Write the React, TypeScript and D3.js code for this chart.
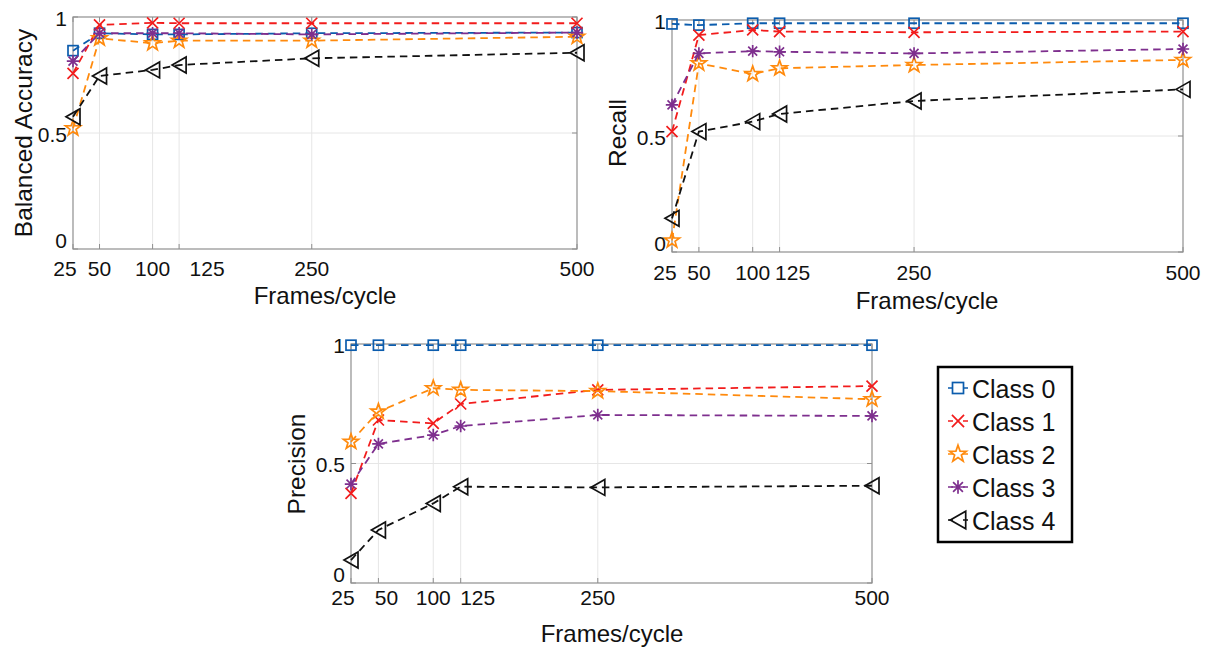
import React from "react";
import * as d3 from "d3";

// Frames per cycle evaluated for every class
const frames = [25, 50, 100, 125, 250, 500];
const xTickLabels = ["25", "50", "100", "125", "250", "500"];
const yTicks = [0, 0.5, 1];
const yTickLabels = ["0", "0.5", "1"];

const classNames = ["Class 0", "Class 1", "Class 2", "Class 3", "Class 4"];
const classColors = ["#0b5cad", "#f21c1c", "#ff8a0d", "#7e2f8e", "#111111"];
const classMarkers = ["square", "x", "star", "asterisk", "triangleLeft"];

// Metric values, one row per class, one column per frames/cycle value
const balancedAccuracy = [
  [0.855, 0.93, 0.925, 0.925, 0.93, 0.933],
  [0.757, 0.966, 0.975, 0.973, 0.973, 0.973],
  [0.52, 0.908, 0.887, 0.898, 0.898, 0.915],
  [0.81, 0.93, 0.93, 0.93, 0.925, 0.933],
  [0.57, 0.746, 0.772, 0.793, 0.822, 0.846],
];

const recall = [
  [0.983, 0.978, 0.986, 0.986, 0.986, 0.986],
  [0.519, 0.935, 0.957, 0.95, 0.947, 0.95],
  [0.05, 0.813, 0.767, 0.792, 0.806, 0.828],
  [0.634, 0.856, 0.866, 0.863, 0.856, 0.875],
  [0.145, 0.519, 0.562, 0.595, 0.651, 0.701],
];

const precision = [
  [0.995, 0.995, 0.995, 0.995, 0.995, 0.995],
  [0.375, 0.682, 0.668, 0.749, 0.808, 0.824],
  [0.591, 0.717, 0.815, 0.808, 0.803, 0.769],
  [0.414, 0.582, 0.619, 0.657, 0.703, 0.699],
  [0.096, 0.222, 0.333, 0.403, 0.4, 0.407],
];

const FONT = "'Liberation Sans', Arial, Helvetica, sans-serif";
const FRAME = "#8f8f8f";
const GRID = "#e6e6e6";

function Marker({
  type,
  cx,
  cy,
  color,
  scale = 1,
}: {
  type: string;
  cx: number;
  cy: number;
  color: string;
  scale?: number;
}) {
  const common = { stroke: color, strokeWidth: 1.7, fill: "none" };
  if (type === "square") {
    const s = 10 * scale;
    return <rect x={cx - s / 2} y={cy - s / 2} width={s} height={s} {...common} />;
  }
  if (type === "x") {
    const h = 5.5 * scale;
    return (
      <path d={`M${cx - h},${cy - h}L${cx + h},${cy + h}M${cx - h},${cy + h}L${cx + h},${cy - h}`} {...common} />
    );
  }
  if (type === "star") {
    const R = 8 * scale;
    const r = R * 0.4;
    const pts: [number, number][] = d3.range(10).map((i) => {
      const a = -Math.PI / 2 + (i * Math.PI) / 5;
      const rad = i % 2 === 0 ? R : r;
      return [cx + rad * Math.cos(a), cy + rad * Math.sin(a)];
    });
    return <path d={"M" + pts.map((p) => p.join(",")).join("L") + "Z"} {...common} />;
  }
  if (type === "asterisk") {
    const h = 6.2 * scale;
    const d = h * 0.72;
    return (
      <path
        d={`M${cx},${cy - h}L${cx},${cy + h}M${cx - h},${cy}L${cx + h},${cy}M${cx - d},${cy - d}L${cx + d},${cy + d}M${cx - d},${cy + d}L${cx + d},${cy - d}`}
        {...common}
      />
    );
  }
  // left-pointing triangle
  const w = 7 * scale;
  const hh = 8 * scale;
  return <path d={`M${cx - w},${cy}L${cx + w},${cy - hh}L${cx + w},${cy + hh}Z`} {...common} />;
}

type PanelProps = {
  values: number[][];
  left: number;
  top: number;
  right: number;
  bottom: number;
  yLabel: string;
  yLabelPos: [number, number];
  xLabelPos: [number, number];
  tickLabelY: number;
  labelNudge: number[];
};

function Panel(p: PanelProps) {
  const x = d3.scaleLinear().domain([25, 500]).range([p.left, p.right]);
  const y = d3.scaleLinear().domain([0, 1]).range([p.bottom, p.top]);
  const line = d3
    .line<number>()
    .x((_, i) => x(frames[i]))
    .y((v) => y(v));
  const tickLen = 5;
  return (
    <g>
      {/* grid */}
      {frames.slice(1, -1).map((f) => (
        <line key={"gx" + f} x1={x(f)} x2={x(f)} y1={p.top} y2={p.bottom} stroke={GRID} strokeWidth={1} />
      ))}
      <line x1={p.left} x2={p.right} y1={y(0.5)} y2={y(0.5)} stroke={GRID} strokeWidth={1} />
      {/* ticks */}
      {frames.map((f) => (
        <g key={"tx" + f}>
          <line x1={x(f)} x2={x(f)} y1={p.bottom} y2={p.bottom - tickLen} stroke={FRAME} />
          <line x1={x(f)} x2={x(f)} y1={p.top} y2={p.top + tickLen} stroke={FRAME} />
        </g>
      ))}
      {yTicks.map((t) => (
        <g key={"ty" + t}>
          <line x1={p.left} x2={p.left + tickLen} y1={y(t)} y2={y(t)} stroke={FRAME} />
          <line x1={p.right} x2={p.right - tickLen} y1={y(t)} y2={y(t)} stroke={FRAME} />
        </g>
      ))}
      <rect
        x={p.left}
        y={p.top}
        width={p.right - p.left}
        height={p.bottom - p.top}
        fill="none"
        stroke={FRAME}
        strokeWidth={1.2}
      />
      {/* series */}
      {p.values.map((row, ci) => (
        <g key={"s" + ci}>
          <path d={line(row) || ""} fill="none" stroke={classColors[ci]} strokeWidth={1.8} strokeDasharray="7.5,5" />
          {row.map((v, i) => (
            <Marker key={i} type={classMarkers[ci]} cx={x(frames[i])} cy={y(v)} color={classColors[ci]} />
          ))}
        </g>
      ))}
      {/* tick labels */}
      {frames.map((f, i) => (
        <text
          key={"lx" + f}
          x={x(f) + p.labelNudge[i]}
          y={p.tickLabelY}
          textAnchor="middle"
          dominantBaseline="central"
          fontSize={21}
          fontFamily={FONT}
          fill="#111"
        >
          {xTickLabels[i]}
        </text>
      ))}
      {yTicks.map((t, i) => (
        <text
          key={"ly" + t}
          x={p.left - 6}
          y={y(t) + (t === 0 ? -9 : 1)}
          textAnchor="end"
          dominantBaseline="central"
          fontSize={21}
          fontFamily={FONT}
          fill="#111"
        >
          {yTickLabels[i]}
        </text>
      ))}
      {/* axis titles */}
      <text
        x={p.xLabelPos[0]}
        y={p.xLabelPos[1]}
        textAnchor="middle"
        dominantBaseline="central"
        fontSize={24}
        fontFamily={FONT}
        fill="#111"
      >
        Frames/cycle
      </text>
      <text
        transform={`translate(${p.yLabelPos[0]},${p.yLabelPos[1]}) rotate(-90)`}
        textAnchor="middle"
        dominantBaseline="central"
        fontSize={24.5}
        fontFamily={FONT}
        fill="#111"
      >
        {p.yLabel}
      </text>
    </g>
  );
}

function Legend({ left, top, width, height }: { left: number; top: number; width: number; height: number }) {
  const rowStart = top + 21;
  const rowStep = 33;
  const mx = left + 20;
  return (
    <g>
      <rect x={left} y={top} width={width} height={height} fill="#fff" stroke="#000" strokeWidth={2.5} />
      {classNames.map((name, i) => {
        const cy = rowStart + i * rowStep;
        return (
          <g key={name}>
            <line
              x1={mx - 10}
              x2={mx + 10}
              y1={cy}
              y2={cy}
              stroke={classColors[i]}
              strokeWidth={1.7}
              strokeDasharray="5,10,5"
            />
            <Marker type={classMarkers[i]} cx={mx} cy={cy} color={classColors[i]} scale={1.1} />
            <text x={left + 34} y={cy + 1} dominantBaseline="central" fontSize={25} fontFamily={FONT} fill="#111">
              {name}
            </text>
          </g>
        );
      })}
    </g>
  );
}

export default function App() {
  return (
    <svg
      width={1211}
      height={650}
      style={{ position: "absolute", left: 0, top: 0, background: "#fff" }}
    >
      <Panel
        values={balancedAccuracy}
        left={73}
        top={17}
        right={577}
        bottom={249}
        yLabel="Balanced Accuracy"
        yLabelPos={[23, 133]}
        xLabelPos={[325, 295]}
        tickLabelY={268}
        labelNudge={[-8, 0, 0, 28, 0, 0]}
      />
      <Panel
        values={recall}
        left={672}
        top={20}
        right={1183}
        bottom={252}
        yLabel="Recall"
        yLabelPos={[617, 133]}
        xLabelPos={[927, 300]}
        tickLabelY={272}
        labelNudge={[-7, 0, 0, 13, 0, 0]}
      />
      <Panel
        values={precision}
        left={351}
        top={344}
        right={872}
        bottom={583}
        yLabel="Precision"
        yLabelPos={[296, 464]}
        xLabelPos={[612, 633]}
        tickLabelY={597}
        labelNudge={[-8, 8, 0, 17, 0, 0]}
      />
      <Legend left={938} top={367} width={134} height={175} />
    </svg>
  );
}
